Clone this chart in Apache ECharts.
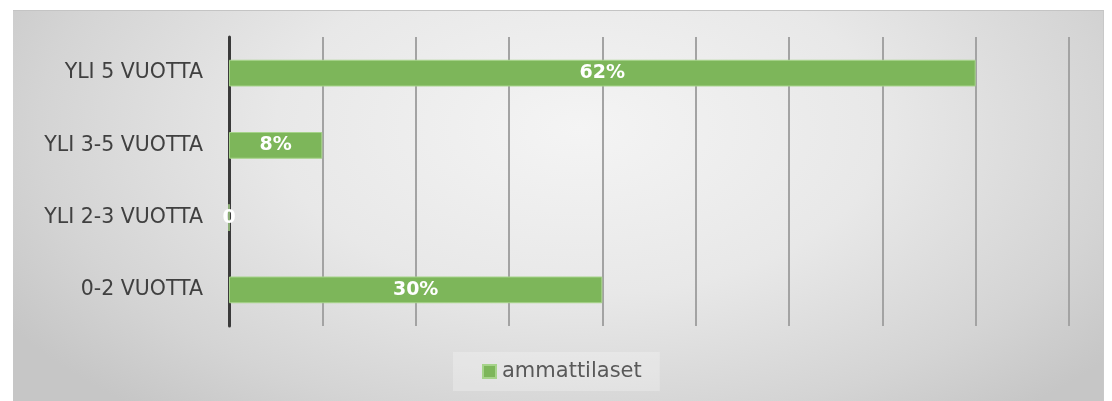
<!DOCTYPE html>
<html><head><meta charset="utf-8">
<script src="https://cdn.jsdelivr.net/npm/echarts@6/dist/echarts.min.js"></script>
<style>
html,body{margin:0;padding:0;background:#fff;}
#bg{position:absolute;left:13px;top:10px;width:1091px;height:391px;border-top:1px solid #c4c4c4;border-right:1px solid #c8c8c8;box-sizing:border-box;
background:radial-gradient(ellipse 62% 95% at 52% 30%, #f4f4f4 0%, #e8e8e8 45%, #d4d4d4 80%, #c6c6c6 100%);}
#chart{position:absolute;left:0;top:0;width:1112px;height:401px;}
</style></head>
<body>
<div id="bg"></div>
<div id="chart"></div>
<script>
const categories = ['0-2 VUOTTA', 'YLI 2-3 VUOTTA', 'YLI 3-5 VUOTTA', 'YLI 5 VUOTTA'];
const values = [4, 0, 1, 8];
const valueLabels = ['30%', '0', '8%', '62%'];
const seriesName = 'ammattilaset';

const chart = echarts.init(document.getElementById('chart'), null, {renderer: 'canvas'});
chart.setOption({
  backgroundColor: 'transparent',
  animation: false,
  grid: {left: 229, right: 43, top: 37, bottom: 75},
  legend: {
    data: [seriesName],
    bottom: 10,
    left: 453,
    itemWidth: 13, itemHeight: 13, itemGap: 8,
    padding: [9, 18, 9, 29],
    backgroundColor: 'rgba(255,255,255,0.25)',
    icon: 'rect',
    textStyle: {color: '#595959', fontSize: 21, fontFamily: 'DejaVu Sans', padding: [0, 0, 0, 1]}
  },
  xAxis: {
    type: 'value', min: 0, max: 9, interval: 1,
    axisLabel: {show: false}, axisTick: {show: false}, axisLine: {show: false},
    splitLine: {show: true, lineStyle: {color: '#a3a3a3', width: 2}}
  },
  yAxis: {
    type: 'category', data: categories,
    axisLine: {show: true, lineStyle: {color: '#3a3a3a', width: 3}},
    axisTick: {show: false},
    axisLabel: {color: '#404040', fontSize: 20.5, fontFamily: 'DejaVu Sans', margin: 26}
  },
  series: [{
    name: seriesName, type: 'bar', data: values,
    barWidth: '37%',
    itemStyle: {color: '#7db65a', borderColor: '#a6d38a', borderWidth: 1},
    label: {
      show: true, position: 'inside', color: '#ffffff', fontWeight: 'bold', fontSize: 19, fontFamily: 'DejaVu Sans',
      formatter: p => valueLabels[p.dataIndex]
    }
  }]
});
</script>
</body></html>
